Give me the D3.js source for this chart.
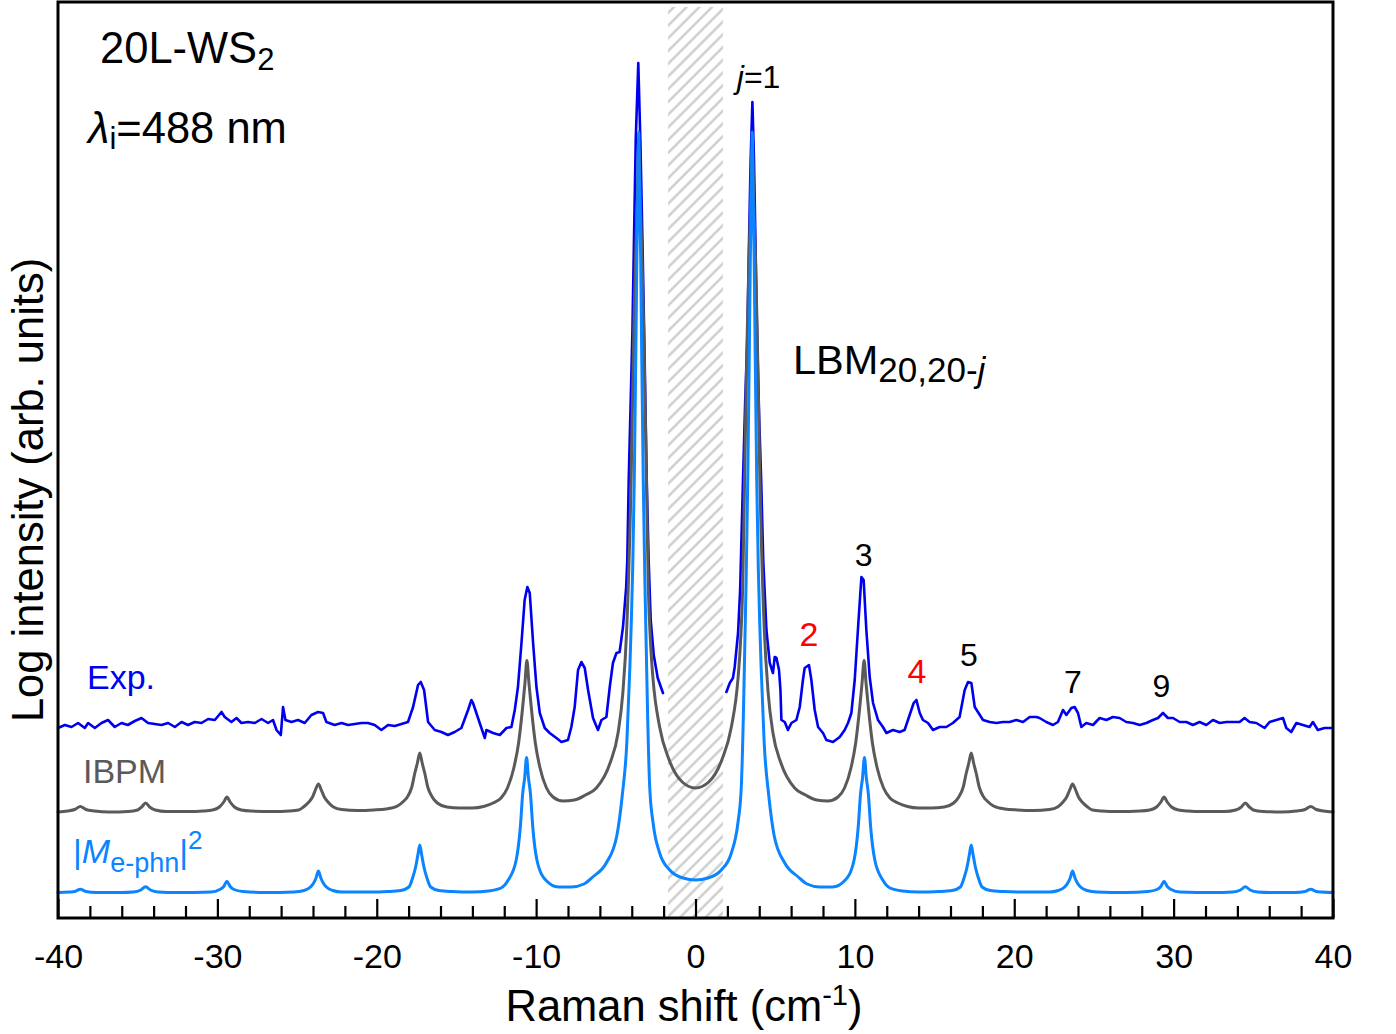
<!DOCTYPE html>
<html><head><meta charset="utf-8">
<script src="https://cdn.jsdelivr.net/npm/d3@7"></script>
<style>body{margin:0;background:#fff}svg{display:block}text{font-family:"Liberation Sans",Arial,sans-serif}</style>
</head><body><svg id="c" width="1396" height="1034"></svg>
<script>
// ---- data ----
const xMajorTicks = [-40,-30,-20,-10,0,10,20,30,40];
const xMinorTicks = [-38,-36,-34,-32,-28,-26,-24,-22,-18,-16,-14,-12,-8,-6,-4,-2,2,4,6,8,12,14,16,18,22,24,26,28,32,34,36,38];
const blockedBand = [-1.72, 1.72];

// Experimental spectrum (log intensity, arb. units), left and right of the blocked band
const expLeft = [[-40.0,190],[-39.57,193],[-39.15,191],[-38.74,195],[-38.32,190],[-38.11,195],[-37.69,190],[-37.27,195],[-36.86,198],[-36.44,191],[-36.02,195],[-35.62,193],[-35.18,197],[-34.76,200],[-34.35,195],[-33.93,194],[-33.51,193],[-33.09,195],[-32.67,191],[-32.25,196],[-31.84,193],[-31.42,196],[-31.00,195],[-30.58,199],[-30.16,198],[-29.74,206],[-29.54,201],[-29.12,196],[-28.80,200],[-28.49,195],[-28.07,196],[-27.65,195],[-27.23,199],[-26.82,195],[-26.51,198],[-26.29,188],[-26.02,183],[-25.88,211],[-25.73,198],[-25.35,196],[-24.94,198],[-24.52,195],[-24.10,203],[-23.68,206],[-23.37,205],[-23.16,196],[-22.64,193],[-22.21,195],[-21.80,193],[-21.38,194],[-20.96,195],[-20.55,195],[-20.13,193],[-19.71,188],[-19.29,193],[-18.87,192],[-18.45,194],[-18.04,196],[-17.72,211],[-17.41,233],[-17.24,236],[-17.03,228],[-16.78,196],[-16.36,188],[-15.94,186],[-15.53,183],[-15.11,186],[-14.69,190],[-14.27,208],[-14.06,218],[-13.96,215],[-13.75,205],[-13.54,195],[-13.22,180],[-13.12,188],[-12.70,185],[-12.28,183],[-11.86,190],[-11.55,191],[-11.34,208],[-11.14,231],[-10.92,275],[-10.72,318],[-10.55,331],[-10.40,325],[-10.19,275],[-9.98,231],[-9.77,205],[-9.46,190],[-9.15,185],[-8.73,180],[-8.41,176],[-8.00,178],[-7.79,191],[-7.58,211],[-7.37,248],[-7.16,256],[-6.95,250],[-6.74,228],[-6.43,200],[-6.12,188],[-5.90,198],[-5.59,201],[-5.38,231],[-5.18,255],[-4.96,265],[-4.76,266],[-4.55,291],[-4.35,331],[-4.28,358],[-4.19,438],[-3.96,585],[-3.86,678],[-3.75,778],[-3.59,855],[-3.46,778],[-3.33,678],[-3.22,585],[-3.06,438],[-2.94,358],[-2.81,298],[-2.62,263],[-2.37,240],[-2.04,225]];
const expRight = [[1.94,226],[2.15,235],[2.35,240],[2.46,251],[2.67,285],[2.80,328],[2.98,438],[3.12,518],[3.26,585],[3.36,678],[3.46,758],[3.57,816],[3.67,758],[3.76,678],[3.86,585],[4.00,498],[4.12,438],[4.25,358],[4.45,288],[4.66,255],[4.86,245],[4.97,261],[5.08,260],[5.24,248],[5.33,228],[5.39,198],[5.60,196],[5.80,188],[6.02,195],[6.33,198],[6.54,211],[6.74,238],[6.85,250],[7.12,253],[7.27,238],[7.48,208],[7.69,191],[8.00,185],[8.21,178],[8.63,176],[9.05,181],[9.36,188],[9.57,195],[9.78,205],[9.99,238],[10.19,288],[10.41,341],[10.55,338],[10.72,288],[10.93,241],[11.14,215],[11.45,198],[11.76,191],[11.98,185],[12.39,188],[12.81,186],[13.12,188],[13.33,198],[13.69,215],[13.86,218],[14.07,205],[14.27,198],[14.59,195],[14.90,188],[15.32,191],[15.74,191],[16.15,195],[16.57,201],[16.89,228],[17.10,236],[17.31,235],[17.52,211],[17.72,206],[18.04,198],[18.46,196],[18.88,195],[19.29,196],[19.71,196],[20.13,198],[20.55,196],[20.97,201],[21.39,201],[21.59,200],[22.01,196],[22.43,193],[22.74,196],[23.06,208],[23.27,203],[23.58,210],[23.79,211],[24.00,205],[24.21,191],[24.52,195],[24.94,193],[25.36,200],[25.78,198],[26.19,201],[26.61,200],[27.03,196],[27.45,195],[27.87,193],[28.29,195],[28.70,198],[29.02,200],[29.33,205],[29.64,200],[29.96,200],[30.38,196],[30.80,196],[31.21,193],[31.63,196],[32.05,193],[32.47,198],[32.89,195],[33.31,196],[33.72,196],[34.14,196],[34.45,200],[34.77,196],[35.19,195],[35.71,190],[36.02,196],[36.44,198],[36.86,200],[37.07,190],[37.38,186],[37.70,195],[38.11,193],[38.53,191],[38.74,196],[39.05,188],[39.47,190],[39.89,190]];

// IBPM model spectrum
const ibpmData = [[-40,106],[-39.4,107],[-38.95,108.5],[-38.6,111.5],[-38.25,108.5],[-37.7,107],[-36.8,106],[-35.6,106.5],[-35.0,108],[-34.75,111],[-34.5,115],[-34.25,111],[-33.9,108],[-33.2,106.5],[-31.8,106.5],[-30.9,107],[-30.3,108],[-29.87,111],[-29.6,116],[-29.4,121],[-29.2,116],[-28.93,111],[-28.5,108],[-27.9,107],[-26.5,106.5],[-25.5,107],[-24.9,108],[-24.6,111],[-24.26,116],[-24.03,121],[-23.85,128],[-23.66,134],[-23.48,128],[-23.29,121],[-23.06,116],[-22.72,111],[-22.2,108.5],[-21.2,107.5],[-20.2,108],[-19.4,109],[-18.7,112],[-18.3,117],[-18.08,121],[-17.8,131],[-17.61,145],[-17.45,155],[-17.3,165],[-17.15,155],[-16.99,145],[-16.8,131],[-16.52,121],[-16.2,115],[-15.6,111],[-14.8,110],[-14.0,110],[-13.3,111.5],[-12.7,115],[-12.2,120],[-11.8,130],[-11.4,150],[-11.1,175],[-10.85,210],[-10.7,235],[-10.58,257.5],[-10.45,235],[-10.3,210],[-10.05,175],[-9.77,151],[-9.35,130],[-8.94,121],[-8.31,117],[-7.6,118],[-6.9,123],[-6.22,130],[-5.36,155],[-4.86,185],[-4.56,225],[-4.31,291],[-4.04,438],[-3.87,588],[-3.76,660],[-3.66,715],[-3.56,770],[-3.46,715],[-3.36,660],[-3.25,588],[-3.08,438],[-2.96,330],[-2.82,275],[-2.67,240],[-2.25,191],[-1.65,158],[-0.83,136],[0,130],
 [0.83,136],[1.65,158],[2.25,191],[2.67,240],[2.82,275],[2.96,330],[3.08,438],[3.25,588],[3.36,660],[3.46,715],[3.56,770],[3.66,715],[3.76,660],[3.87,588],[4.04,438],[4.31,291],[4.56,225],[4.86,185],[5.36,155],[6.22,130],[6.9,123],[7.6,118],[8.31,117],[8.94,121],[9.35,130],[9.77,151],[10.05,175],[10.3,210],[10.45,235],[10.58,257.5],[10.7,235],[10.85,210],[11.1,175],[11.4,150],[11.8,130],[12.2,120],[12.7,115],[13.3,111.5],[14.0,110],[14.8,110],[15.6,111],[16.2,115],[16.52,121],[16.8,131],[16.99,145],[17.15,155],[17.3,165],[17.45,155],[17.61,145],[17.8,131],[18.08,121],[18.3,117],[18.7,112],[19.4,109],[20.2,108],[21.2,107.5],[22.2,108.5],[22.72,111],[23.06,116],[23.29,121],[23.48,128],[23.66,134],[23.85,128],[24.03,121],[24.26,116],[24.6,111],[24.9,108],[25.5,107],[26.5,106.5],[27.9,107],[28.5,108],[28.93,111],[29.2,116],[29.4,121],[29.6,116],[29.87,111],[30.3,108],[30.9,107],[31.8,106.5],[33.2,106.5],[33.9,108],[34.25,111],[34.5,115],[34.75,111],[35.0,108],[35.6,106.5],[36.8,106],[37.7,107],[38.25,108.5],[38.6,111.5],[38.95,108.5],[39.4,107],[40,106]];

// |M_e-phn|^2 spectrum
const mephnData = [[-40,25.5],[-39.3,26],[-38.95,26.5],[-38.6,28.7],[-38.25,26.5],[-37.6,25.5],[-36,25.5],[-35.3,26],[-34.8,28],[-34.5,31.3],[-34.2,28],[-33.7,26],[-32.5,25.5],[-30.4,26],[-29.85,28.5],[-29.6,31.5],[-29.4,36.7],[-29.2,31.5],[-28.95,28.5],[-28.4,26.5],[-27,25.5],[-25.2,26],[-24.56,27.5],[-24.16,31],[-23.96,35],[-23.81,40],[-23.66,47],[-23.51,40],[-23.36,35],[-23.16,31],[-22.76,27.5],[-22.2,26],[-20.5,26],[-19.3,26.5],[-18.5,27.5],[-17.98,31],[-17.75,40],[-17.56,51],[-17.42,63],[-17.3,73],[-17.18,63],[-17.04,51],[-16.85,40],[-16.62,31],[-16.1,27.5],[-15.3,26.5],[-14,26],[-13.0,27],[-12.2,30],[-11.75,38],[-11.25,58],[-10.99,91],[-10.84,125],[-10.72,140],[-10.6,160.5],[-10.48,140],[-10.36,125],[-10.21,91],[-9.95,58],[-9.4,38],[-8.6,31],[-7.8,31],[-7.0,34],[-6.45,41],[-5.6,55],[-4.94,82],[-4.6,122],[-4.31,175],[-4.12,250],[-4.03,295],[-3.94,350],[-3.84,440],[-3.74,570],[-3.68,660],[-3.62,720],[-3.56,786],[-3.5,720],[-3.44,660],[-3.38,570],[-3.28,440],[-3.18,340],[-3.09,270],[-3.0,200],[-2.87,130],[-2.66,95],[-2.25,65],[-1.62,48],[-0.78,40],[0,38],
 [0.78,40],[1.62,48],[2.25,65],[2.66,95],[2.87,130],[3.0,200],[3.09,270],[3.18,340],[3.28,440],[3.38,570],[3.44,660],[3.5,720],[3.56,786],[3.62,720],[3.68,660],[3.74,570],[3.84,440],[3.94,350],[4.03,295],[4.12,250],[4.31,175],[4.6,122],[4.94,82],[5.6,55],[6.45,41],[7.0,34],[7.8,31],[8.6,31],[9.4,38],[9.95,58],[10.21,91],[10.36,125],[10.48,140],[10.6,160.5],[10.72,140],[10.84,125],[10.99,91],[11.25,58],[11.75,38],[12.2,30],[13.0,27],[14,26],[15.3,26.5],[16.1,27.5],[16.62,31],[16.85,40],[17.04,51],[17.18,63],[17.3,73],[17.42,63],[17.56,51],[17.75,40],[17.98,31],[18.5,27.5],[19.3,26.5],[20.5,26],[22.2,26],[22.76,27.5],[23.16,31],[23.36,35],[23.51,40],[23.66,47],[23.81,40],[23.96,35],[24.16,31],[24.56,27.5],[25.2,26],[27,25.5],[28.4,26.5],[28.95,28.5],[29.2,31.5],[29.4,36.7],[29.6,31.5],[29.85,28.5],[30.4,26],[32.5,25.5],[33.7,26],[34.2,28],[34.5,31.3],[34.8,28],[35.3,26],[36,25.5],[37.6,25.5],[38.25,26.5],[38.6,28.7],[38.95,26.5],[39.3,26],[40,25.5]];

// peak index labels: text, shift, log intensity of label baseline, colour
const peakLabels = [
  {t:"3", x:10.55, v:352, c:"#000"},
  {t:"2", x:7.12,  v:272, c:"#ff0000"},
  {t:"4", x:13.9,  v:235, c:"#ff0000"},
  {t:"5", x:17.16, v:252, c:"#000"},
  {t:"7", x:23.68, v:225, c:"#000"},
  {t:"9", x:29.23, v:221, c:"#000"}
];

// ---- chart ----
const svg = d3.select("#c");
const L = 58, R = 1333, T = 2, B = 918;
const x = d3.scaleLinear([-40, 40], [L, R]);
const y = d3.scaleLinear([0, 916], [B, T]);

const COL_EXP = "#0000f0", COL_IBPM = "#5a5a5a", COL_M = "#0a84ff";

// hatch pattern
const defs = svg.append("defs");
const pat = defs.append("pattern").attr("id","hatch").attr("patternUnits","userSpaceOnUse")
  .attr("width",9).attr("height",9).attr("patternTransform","rotate(45)");
pat.append("line").attr("x1",4.5).attr("y1",-1).attr("x2",4.5).attr("y2",10)
  .attr("stroke","#c8c8c8").attr("stroke-width",2.2);

svg.append("rect")
  .attr("x", x(blockedBand[0])).attr("width", x(blockedBand[1]) - x(blockedBand[0]))
  .attr("y", T + 5).attr("height", B - T - 5)
  .attr("fill", "url(#hatch)");

const smooth = d3.line().x(d => x(d[0])).y(d => y(d[1])).curve(d3.curveMonotoneX);
const raw = d3.line().x(d => x(d[0])).y(d => y(d[1]));

const g = svg.append("g").attr("fill","none").attr("stroke-linejoin","round").attr("stroke-linecap","round");
g.append("path").attr("d", raw(expLeft)).attr("stroke", COL_EXP).attr("stroke-width", 2.6);
g.append("path").attr("d", raw(expRight)).attr("stroke", COL_EXP).attr("stroke-width", 2.6);
g.append("path").attr("d", smooth(ibpmData)).attr("stroke", COL_IBPM).attr("stroke-width", 3);
g.append("path").attr("d", smooth(mephnData)).attr("stroke", COL_M).attr("stroke-width", 3);

// axes ticks (inside)
const axMinor = svg.append("g").attr("transform", `translate(0,${B})`)
  .call(d3.axisBottom(x).tickValues(xMinorTicks).tickSizeInner(-12).tickSizeOuter(0).tickFormat(""));
const axMajor = svg.append("g").attr("transform", `translate(0,${B})`)
  .call(d3.axisBottom(x).tickValues(xMajorTicks).tickSizeInner(-19).tickSizeOuter(0).tickFormat(d3.format("d")));
[axMinor, axMajor].forEach(a => {
  a.select(".domain").remove();
  a.selectAll(".tick line").attr("stroke","#000").attr("stroke-width",2.2);
});
axMajor.selectAll(".tick text").attr("y", 50).attr("dy", 0)
  .attr("font-size", 34).attr("fill", "#000")
  .style("font-family", '"Liberation Sans", Arial, sans-serif')
  .text(d => d < 0 ? "-" + Math.abs(d) : d);

// frame
svg.append("rect").attr("x", L).attr("y", T).attr("width", R - L).attr("height", B - T)
  .attr("fill","none").attr("stroke","#000").attr("stroke-width",3);

// axis titles
const xt = svg.append("text").attr("x", 684).attr("y", 1021).attr("text-anchor","middle").attr("font-size",43.5);
xt.append("tspan").text("Raman shift (cm");
xt.append("tspan").attr("dy",-16).attr("font-size",29).text("-1");
xt.append("tspan").attr("dy",16).text(")");

svg.append("text").attr("transform","translate(43,490) rotate(-90)").attr("text-anchor","middle")
  .attr("font-size",43.5).text("Log intensity (arb. units)");

// annotations
const t1 = svg.append("text").attr("x",100).attr("y",63).attr("font-size",43.5);
t1.append("tspan").text("20L-WS");
t1.append("tspan").attr("dy",7).attr("font-size",31).text("2");

const t2 = svg.append("text").attr("x",88).attr("y",143).attr("font-size",43.5);
t2.append("tspan").attr("font-style","italic").text("λ");
t2.append("tspan").attr("dy",6).attr("font-size",31).text("i");
t2.append("tspan").attr("dy",-6).text("=488 nm");

const t3 = svg.append("text").attr("x",793).attr("y",374).attr("font-size",41.5);
t3.append("tspan").text("LBM");
t3.append("tspan").attr("dy",8).attr("font-size",35).text("20,20-");
t3.append("tspan").attr("font-size",35).attr("font-style","italic").text("j");

const tj = svg.append("text").attr("x", x(2.59)).attr("y", y(830)).attr("font-size",32);
tj.append("tspan").attr("font-style","italic").text("j");
tj.append("tspan").text("=1");

svg.append("g").selectAll("text").data(peakLabels).join("text")
  .attr("x", d => x(d.x)).attr("y", d => y(d.v)).attr("text-anchor","middle")
  .attr("font-size", d => d.c === "#000" ? 32 : 34).attr("fill", d => d.c).text(d => d.t);

// series labels
svg.append("text").attr("x",87).attr("y",689).attr("font-size",34).attr("fill",COL_EXP).text("Exp.");
svg.append("text").attr("x",83).attr("y",783).attr("font-size",34).attr("fill",COL_IBPM).text("IBPM");
const tm = svg.append("text").attr("x",73).attr("y",863).attr("font-size",34).attr("fill",COL_M);
tm.append("tspan").text("|");
tm.append("tspan").attr("font-style","italic").text("M");
tm.append("tspan").attr("dy",9).attr("font-size",27).text("e-phn");
tm.append("tspan").attr("dy",-9).text("|");
tm.append("tspan").attr("dy",-14).attr("font-size",26).text("2");
</script></body></html>
